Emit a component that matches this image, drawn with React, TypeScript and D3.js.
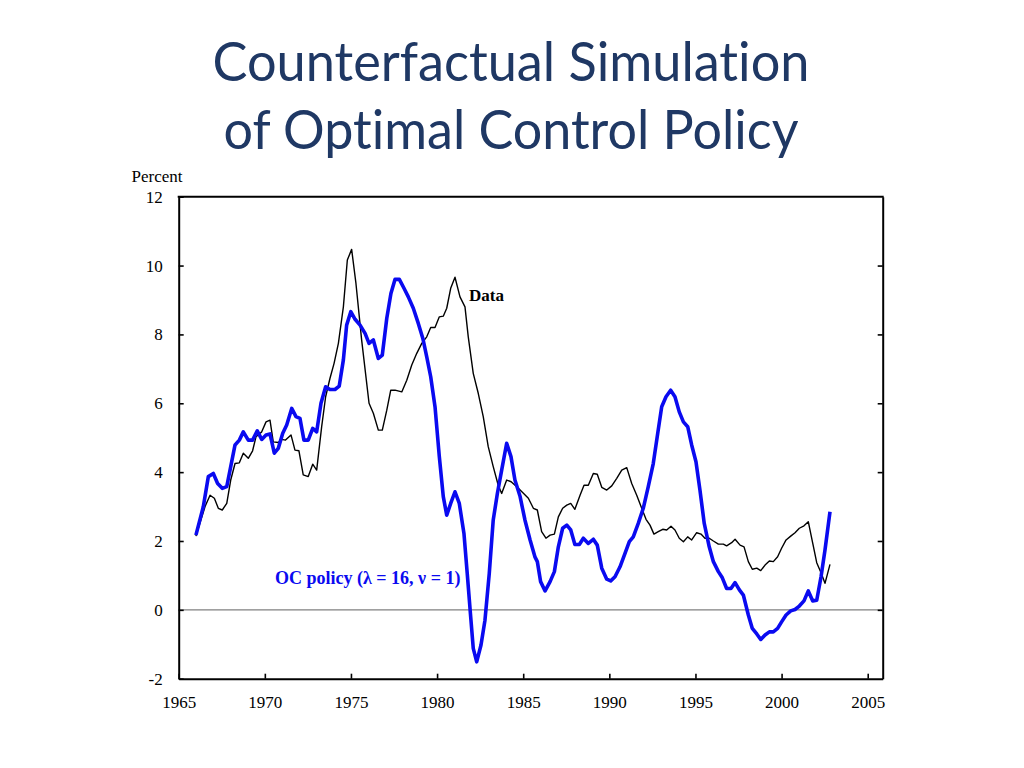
import React, { useRef, useEffect } from "react";
import * as d3 from "d3";

// black line ("Data")
const dataYears = [
  1966.0, 1966.53, 1966.82, 1967.07, 1967.3, 1967.53, 1967.79, 1968.02, 1968.27, 1968.52,
  1968.75, 1969.04, 1969.29, 1969.49, 1969.82, 1970.07, 1970.3, 1970.49, 1970.78, 1970.98,
  1971.2, 1971.52, 1971.75, 1971.98, 1972.23, 1972.52, 1972.78, 1973.01, 1973.3, 1973.53,
  1973.78, 1974.02, 1974.27, 1974.56, 1974.79, 1975.04, 1975.29, 1975.62, 1976.05, 1976.3,
  1976.59, 1976.82, 1977.08, 1977.31, 1977.56, 1977.95, 1978.24, 1978.53, 1978.82, 1979.11,
  1979.4, 1979.63, 1979.88, 1980.13, 1980.36, 1980.56, 1980.79, 1981.04, 1981.33, 1981.62,
  1981.81, 1982.1, 1982.39, 1982.68, 1982.97, 1983.26, 1983.55, 1983.75, 1984.04, 1984.3,
  1984.72, 1985.3, 1985.59, 1985.82, 1986.07, 1986.32, 1986.56, 1986.81, 1987.04, 1987.29,
  1987.53, 1987.76, 1988.0, 1988.3, 1988.53, 1988.78, 1989.07, 1989.3, 1989.56, 1989.85,
  1990.14, 1990.43, 1990.72, 1991.01, 1991.3, 1991.59, 1991.88, 1992.13, 1992.36, 1992.59,
  1992.84, 1993.1, 1993.33, 1993.58, 1993.81, 1994.06, 1994.3, 1994.55, 1994.78, 1995.07,
  1995.32, 1995.55, 1995.8, 1996.04, 1996.33, 1996.62, 1996.81, 1997.1, 1997.3, 1997.59,
  1997.82, 1998.07, 1998.3, 1998.56, 1998.79, 1999.04, 1999.29, 1999.52, 1999.77, 2000.0,
  2000.26, 2000.53, 2000.78, 2001.03, 2001.3, 2001.55, 2001.81, 2002.04, 2002.29, 2002.52,
  2002.81,
];
const dataValues = [
  2.14, 3.0, 3.33, 3.24, 2.95, 2.9, 3.09, 3.77, 4.25, 4.27,
  4.55, 4.4, 4.62, 5.03, 5.17, 5.46, 5.51, 4.88, 4.86, 4.95,
  4.93, 5.08, 4.64, 4.62, 3.92, 3.87, 4.23, 4.06, 5.32, 6.19,
  6.72, 7.16, 7.74, 8.8, 10.16, 10.47, 9.48, 7.84, 6.0, 5.71,
  5.22, 5.22, 5.8, 6.38, 6.38, 6.33, 6.67, 7.11, 7.45, 7.74,
  7.93, 8.2, 8.2, 8.51, 8.53, 8.76, 9.34, 9.66, 9.09, 8.8,
  7.93, 6.87, 6.29, 5.61, 4.74, 4.16, 3.62, 3.38, 3.77, 3.72,
  3.53, 3.24, 2.95, 2.9, 2.27, 2.08, 2.17, 2.2, 2.7, 2.95,
  3.04, 3.09, 2.92, 3.33, 3.62, 3.62, 3.96, 3.94, 3.56, 3.48,
  3.6, 3.82, 4.06, 4.13, 3.67, 3.33, 2.95, 2.63, 2.46, 2.2,
  2.27, 2.34, 2.32, 2.43, 2.32, 2.08, 1.98, 2.12, 2.03, 2.24,
  2.2, 2.08, 2.08, 2.0, 1.91, 1.91, 1.86, 1.95, 2.05, 1.88,
  1.83, 1.4, 1.18, 1.21, 1.14, 1.3, 1.42, 1.4, 1.54, 1.79,
  2.03, 2.14, 2.24, 2.37, 2.44, 2.56, 1.93, 1.37, 1.08, 0.77,
  1.32,
];

// blue line (OC policy, lambda = 16, nu = 1)
const ocYears = [
  1966.0, 1966.43, 1966.72, 1967.01, 1967.26, 1967.53, 1967.79, 1968.02, 1968.27, 1968.52,
  1968.75, 1969.04, 1969.29, 1969.56, 1969.82, 1970.07, 1970.3, 1970.55, 1970.78, 1971.04,
  1971.27, 1971.56, 1971.81, 1972.04, 1972.27, 1972.52, 1972.78, 1973.01, 1973.26, 1973.53,
  1973.78, 1974.07, 1974.32, 1974.56, 1974.75, 1974.99, 1975.24, 1975.53, 1975.82, 1976.05,
  1976.3, 1976.59, 1976.82, 1977.08, 1977.32, 1977.56, 1977.81, 1978.08, 1978.33, 1978.62,
  1978.91, 1979.17, 1979.4, 1979.63, 1979.88, 1980.13, 1980.36, 1980.56, 1980.79, 1981.04,
  1981.29, 1981.56, 1981.75, 1981.95, 1982.1, 1982.3, 1982.55, 1982.78, 1983.03, 1983.26,
  1983.5, 1983.75, 1984.04, 1984.29, 1984.52, 1984.82, 1985.1, 1985.4, 1985.68, 1985.82,
  1986.01, 1986.27, 1986.56, 1986.81, 1987.04, 1987.29, 1987.53, 1987.76, 1988.0, 1988.26,
  1988.49, 1988.78, 1989.07, 1989.3, 1989.56, 1989.85, 1990.08, 1990.33, 1990.62, 1990.91,
  1991.16, 1991.39, 1991.68, 1991.97, 1992.26, 1992.55, 1992.81, 1993.04, 1993.29, 1993.56,
  1993.81, 1994.06, 1994.3, 1994.55, 1994.78, 1995.03, 1995.26, 1995.51, 1995.8, 1996.04,
  1996.33, 1996.56, 1996.81, 1997.06, 1997.3, 1997.55, 1997.78, 1998.07, 1998.3, 1998.56,
  1998.79, 1999.04, 1999.29, 1999.52, 1999.77, 2000.0, 2000.26, 2000.53, 2000.78, 2001.03,
  2001.3, 2001.55, 2001.81, 2002.04, 2002.29, 2002.52, 2002.81,
];
const ocValues = [
  2.17, 3.0, 3.87, 3.96, 3.67, 3.53, 3.58, 4.16, 4.79, 4.93,
  5.17, 4.93, 4.93, 5.2, 4.95, 5.08, 5.11, 4.55, 4.69, 5.13,
  5.37, 5.85, 5.61, 5.56, 4.93, 4.93, 5.27, 5.17, 6.0, 6.48,
  6.4, 6.4, 6.5, 7.26, 8.27, 8.66, 8.44, 8.27, 8.03, 7.74,
  7.84, 7.3, 7.4, 8.47, 9.19, 9.6, 9.6, 9.34, 9.09, 8.76,
  8.32, 7.89, 7.35, 6.77, 5.9, 4.45, 3.29, 2.75, 3.09, 3.43,
  3.09, 2.22, 1.06, -0.2, -1.12, -1.51, -1.02, -0.3, 1.06, 2.61,
  3.38, 4.06, 4.84, 4.45, 3.77, 3.29, 2.61, 2.03, 1.54, 1.4,
  0.82, 0.55, 0.82, 1.11, 1.83, 2.37, 2.46, 2.32, 1.9, 1.9,
  2.08, 1.93, 2.05, 1.88, 1.21, 0.89, 0.84, 0.96, 1.25, 1.64,
  1.98, 2.12, 2.51, 2.95, 3.58, 4.25, 5.13, 5.9, 6.19, 6.38,
  6.19, 5.75, 5.46, 5.32, 4.79, 4.3, 3.48, 2.51, 1.83, 1.4,
  1.11, 0.93, 0.62, 0.62, 0.79, 0.58, 0.43, -0.15, -0.54, -0.7,
  -0.86, -0.73, -0.64, -0.64, -0.54, -0.35, -0.15, -0.03, 0.01, 0.11,
  0.26, 0.55, 0.26, 0.28, 0.96, 1.74, 2.85,
];

const xTicks = [1965, 1970, 1975, 1980, 1985, 1990, 1995, 2000, 2005];
const yTicks = [-2, 0, 2, 4, 6, 8, 10, 12];

const W = 1024;
const H = 768;
const PLOT = { left: 178.7, right: 882.7, top: 196.7, bottom: 678.7 };
const TITLE_COLOR = "#1f3864";
const OC_BLUE = "#0a0af0";
const SERIF = "'Liberation Serif', 'Times New Roman', serif";

export default function App() {
  const svgRef = useRef<SVGSVGElement | null>(null);

  useEffect(() => {
    if (!svgRef.current) return;
    const svg = d3.select(svgRef.current);
    svg.selectAll("*").remove();

    const x = d3.scaleLinear().domain([1965, 2005.87]).range([PLOT.left, PLOT.right]);
    const y = d3.scaleLinear().domain([-2, 12]).range([PLOT.bottom, PLOT.top]);

    // title, two lines
    const title = svg
      .append("text")
      .attr("x", 511)
      .attr("text-anchor", "middle")
      .attr("font-family", "Lato, 'Open Sans', sans-serif")
      .attr("font-size", 54)
      .attr("fill", TITLE_COLOR)
      .style("font-variant-ligatures", "none");
    title
      .append("tspan")
      .attr("x", 511)
      .attr("y", 81)
      .attr("textLength", 597)
      .attr("lengthAdjust", "spacingAndGlyphs")
      .text("Counterfactual Simulation");
    title
      .append("tspan")
      .attr("x", 511)
      .attr("y", 149)
      .attr("textLength", 575)
      .attr("lengthAdjust", "spacingAndGlyphs")
      .text("of Optimal Control Policy");

    // zero line
    svg
      .append("line")
      .attr("x1", PLOT.left)
      .attr("x2", PLOT.right)
      .attr("y1", y(0))
      .attr("y2", y(0))
      .attr("stroke", "#808080")
      .attr("stroke-width", 1.3);

    // axes, ticks point inward
    const styleAxis = (g: d3.Selection<SVGGElement, unknown, null, undefined>) => {
      g.select(".domain").attr("stroke", "#000").attr("stroke-width", 2);
      g.selectAll(".tick line").attr("stroke", "#000").attr("stroke-width", 1.6);
      g.selectAll("text")
        .attr("font-family", SERIF)
        .attr("font-size", 17)
        .attr("fill", "#000");
    };

    svg
      .append("g")
      .attr("transform", `translate(${PLOT.left},0)`)
      .call(
        d3
          .axisLeft(y)
          .tickValues(yTicks)
          .tickSizeInner(-5)
          .tickSizeOuter(0)
          .tickPadding(16)
          .tickFormat((d) => String(d))
      )
      .call(styleAxis);

    svg
      .append("g")
      .attr("transform", `translate(${PLOT.right},0)`)
      .call(
        d3
          .axisRight(y)
          .tickValues(yTicks.slice(1, -1))
          .tickSizeInner(-5)
          .tickSizeOuter(0)
          .tickFormat(() => "")
      )
      .call(styleAxis);

    svg
      .append("g")
      .attr("transform", `translate(0,${PLOT.bottom})`)
      .call(
        d3
          .axisBottom(x)
          .tickValues(xTicks)
          .tickSizeInner(-5)
          .tickSizeOuter(0)
          .tickPadding(17)
          .tickFormat((d) => String(d))
      )
      .call(styleAxis);

    // top border
    svg
      .append("line")
      .attr("x1", PLOT.left - 1)
      .attr("x2", PLOT.right + 1)
      .attr("y1", PLOT.top)
      .attr("y2", PLOT.top)
      .attr("stroke", "#000")
      .attr("stroke-width", 2);

    svg
      .append("text")
      .attr("x", 157)
      .attr("y", 182)
      .attr("text-anchor", "middle")
      .attr("font-family", SERIF)
      .attr("font-size", 17)
      .text("Percent");

    // series
    const dataPts: [number, number][] = dataYears.map((yr, i) => [yr, dataValues[i]]);
    const ocPts: [number, number][] = ocYears.map((yr, i) => [yr, ocValues[i]]);
    const lineGen = d3
      .line<[number, number]>()
      .x((d) => x(d[0]))
      .y((d) => y(d[1]));

    svg
      .append("path")
      .datum(dataPts)
      .attr("fill", "none")
      .attr("stroke", "#000")
      .attr("stroke-width", 1.4)
      .attr("stroke-linejoin", "round")
      .attr("d", lineGen);

    svg
      .append("path")
      .datum(ocPts)
      .attr("fill", "none")
      .attr("stroke", OC_BLUE)
      .attr("stroke-width", 3.6)
      .attr("stroke-linejoin", "round")
      .attr("d", lineGen);

    // labels on the lines
    svg
      .append("text")
      .attr("x", 469)
      .attr("y", 301)
      .attr("font-family", SERIF)
      .attr("font-weight", "bold")
      .attr("font-size", 17)
      .attr("fill", "#000")
      .text("Data");

    svg
      .append("text")
      .attr("x", 275)
      .attr("y", 584)
      .attr("font-family", SERIF)
      .attr("font-weight", "bold")
      .attr("font-size", 18)
      .attr("fill", OC_BLUE)
      .text("OC policy (λ = 16, ν = 1)");
  }, []);

  return (
    <svg
      ref={svgRef}
      width={W}
      height={H}
      style={{ position: "absolute", left: 0, top: 0, background: "#fff" }}
    />
  );
}
